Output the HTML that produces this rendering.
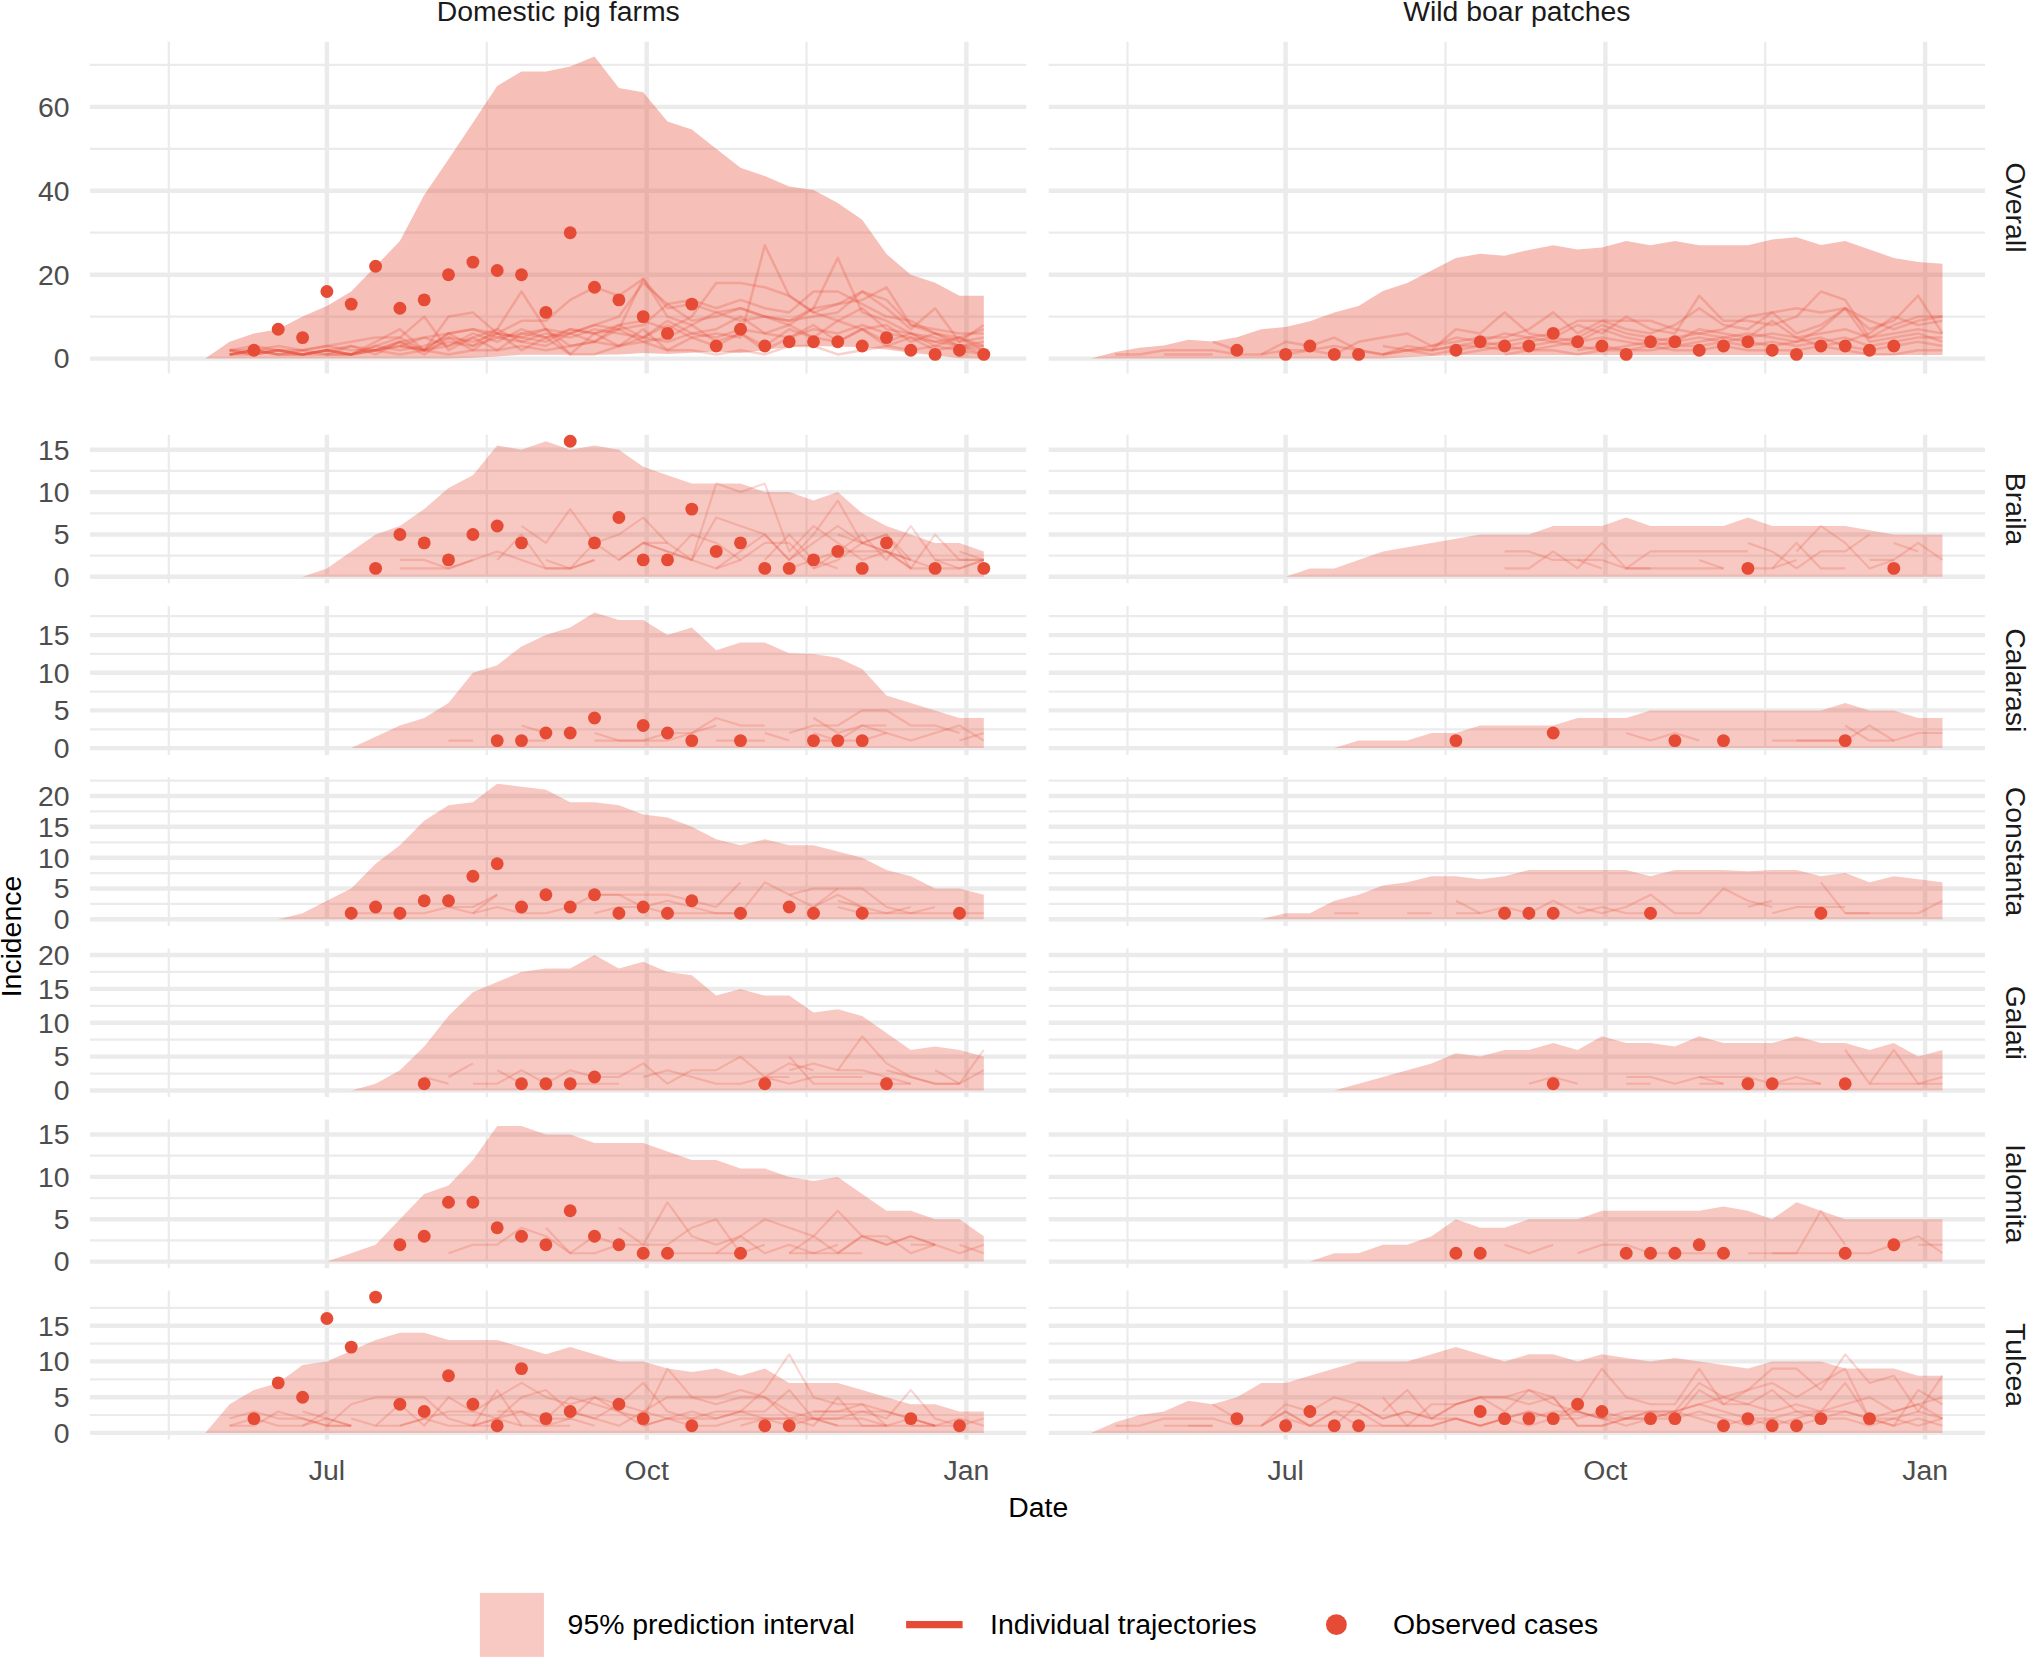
<!DOCTYPE html>
<html lang="en">
<head>
<meta charset="utf-8">
<title>Incidence: observed cases, prediction intervals and individual trajectories</title>
<style>
html,body{margin:0;padding:0;background:#fff}
body{width:2027px;height:1657px;overflow:hidden}
svg{display:block}
text{font-family:"Liberation Sans",sans-serif;font-size:28.4px}
.tk{fill:#4D4D4D}
.st{fill:#1A1A1A}
.ax{fill:#000}
g[clip-path] path:not([stroke]){stroke:#E64B35;stroke-opacity:.22;stroke-width:2.1;fill:none;stroke-linejoin:round;stroke-linecap:butt}
g.t path:not([stroke]){stroke-opacity:.26;stroke-width:2.5}
</style>
</head>
<body>
<svg width="2027" height="1657" viewBox="0 0 2027 1657">
<rect width="2027" height="1657" fill="#fff"/>
<defs>
<clipPath id="c00"><rect x="89.8" y="41.4" width="936.7" height="332.3"/></clipPath>
<clipPath id="c01"><rect x="1048.5" y="41.4" width="936.6" height="332.3"/></clipPath>
<clipPath id="c10"><rect x="89.8" y="434.5" width="936.7" height="149.1"/></clipPath>
<clipPath id="c11"><rect x="1048.5" y="434.5" width="936.6" height="149.1"/></clipPath>
<clipPath id="c20"><rect x="89.8" y="605.7" width="936.7" height="149.2"/></clipPath>
<clipPath id="c21"><rect x="1048.5" y="605.7" width="936.6" height="149.2"/></clipPath>
<clipPath id="c30"><rect x="89.8" y="776.9" width="936.7" height="149.2"/></clipPath>
<clipPath id="c31"><rect x="1048.5" y="776.9" width="936.6" height="149.2"/></clipPath>
<clipPath id="c40"><rect x="89.8" y="948.2" width="936.7" height="149.1"/></clipPath>
<clipPath id="c41"><rect x="1048.5" y="948.2" width="936.6" height="149.1"/></clipPath>
<clipPath id="c50"><rect x="89.8" y="1119.3" width="936.7" height="149.1"/></clipPath>
<clipPath id="c51"><rect x="1048.5" y="1119.3" width="936.6" height="149.1"/></clipPath>
<clipPath id="c60"><rect x="89.8" y="1290.3" width="936.7" height="149.4"/></clipPath>
<clipPath id="c61"><rect x="1048.5" y="1290.3" width="936.6" height="149.4"/></clipPath>
</defs>
<g class="t" clip-path="url(#c00)">
<path d="M89.8 316.6H1026.5M89.8 232.7H1026.5M89.8 148.8H1026.5M89.8 64.9H1026.5M168.8 41.4V373.7M486.8 41.4V373.7M806.5 41.4V373.7" stroke="#EBEBEB" stroke-width="2.2" fill="none"/>
<path d="M89.8 358.6H1026.5M89.8 274.7H1026.5M89.8 190.8H1026.5M89.8 106.9H1026.5M326.9 41.4V373.7M646.7 41.4V373.7M966.4 41.4V373.7" stroke="#EBEBEB" stroke-width="4.4" fill="none"/>
<polygon points="205.2,358.6 229.6,341.8 253.9,333.4 278.2,329.2 302.6,316.6 326.9,306.1 351.2,291.5 375.6,266.3 399.9,241.1 424.2,195 448.5,159.3 472.9,122.8 497.2,85.9 521.5,71.6 545.9,71.6 570.2,66.6 594.5,56.5 618.9,88 643.2,92.2 667.5,121.5 691.8,129.5 716.2,148.8 740.5,167.7 764.8,176.1 789.2,186.6 813.5,189.9 837.8,202.9 862.2,219.7 886.5,254.1 910.8,274.7 935.1,282.7 959.5,295.7 983.8,295.7 983.8,358.6 959.5,358.2 935.1,355.2 910.8,352.7 886.5,349.4 862.2,347.3 837.8,346.4 813.5,346 789.2,346.4 764.8,350.2 740.5,353.1 716.2,351.5 691.8,352.7 667.5,354 643.2,353.1 618.9,354.4 594.5,354.8 570.2,354.8 545.9,354.8 521.5,354.8 497.2,356.5 472.9,357.8 448.5,358.6 424.2,358.6 399.9,358.6 375.6,358.6 351.2,358.6 326.9,358.6 302.6,358.6 278.2,358.6 253.9,358.6 229.6,358.6 205.2,358.6" fill="#E64B35" fill-opacity="0.35"/>
<path d="M229.6 354.4 L253.9 350.2 L278.2 354.4 L302.6 354.4 L326.9 350.2 L351.2 354.4 L375.6 350.2 L399.9 346 L424.2 350.2 L448.5 341.8 L472.9 346 L497.2 337.6 L521.5 341.8 L545.9 333.4 L570.2 337.6 L594.5 329.2 L618.9 333.4 L643.2 337.6 L667.5 325 L691.8 337.6 L716.2 333.4 L740.5 337.6 L764.8 245.3 L789.2 295.7 L813.5 312.4 L837.8 320.8 L862.2 308.2 L886.5 329.2 L910.8 333.4 L935.1 341.8 L959.5 337.6 L983.8 346"/>
<path d="M229.6 350.2 L253.9 350.2 L278.2 346 L302.6 350.2 L326.9 346 L351.2 350.2 L375.6 350.2 L399.9 341.8 L424.2 337.6 L448.5 346 L472.9 333.4 L497.2 341.8 L521.5 329.2 L545.9 337.6 L570.2 333.4 L594.5 325 L618.9 329.2 L643.2 278.9 L667.5 316.6 L691.8 325 L716.2 312.4 L740.5 320.8 L764.8 316.6 L789.2 325 L813.5 308.2 L837.8 257.9 L862.2 312.4 L886.5 320.8 L910.8 333.4 L935.1 337.6 L959.5 346 L983.8 341.8"/>
<path d="M229.6 354.4 L253.9 354.4 L278.2 350.2 L302.6 354.4 L326.9 354.4 L351.2 354.4 L375.6 346 L399.9 350.2 L424.2 346 L448.5 337.6 L472.9 341.8 L497.2 333.4 L521.5 337.6 L545.9 341.8 L570.2 329.2 L594.5 333.4 L618.9 325 L643.2 320.8 L667.5 329.2 L691.8 316.6 L716.2 283.1 L740.5 283.1 L764.8 287.3 L789.2 295.7 L813.5 312.4 L837.8 304.1 L862.2 299.9 L886.5 287.3 L910.8 325 L935.1 333.4 L959.5 341.8 L983.8 337.6"/>
<path d="M229.6 350.2 L253.9 346 L278.2 350.2 L302.6 350.2 L326.9 346 L351.2 341.8 L375.6 337.6 L399.9 337.6 L424.2 316.6 L448.5 350.2 L472.9 337.6 L497.2 329.2 L521.5 291.5 L545.9 329.2 L570.2 354.4 L594.5 354.4 L618.9 346 L643.2 337.6 L667.5 341.8 L691.8 333.4 L716.2 337.6 L740.5 329.2 L764.8 333.4 L789.2 337.6 L813.5 329.2 L837.8 333.4 L862.2 325 L886.5 333.4 L910.8 337.6 L935.1 341.8 L959.5 346 L983.8 346"/>
<path d="M399.9 346 L424.2 350.2 L448.5 333.4 L472.9 329.2 L497.2 333.4 L521.5 320.8 L545.9 320.8 L570.2 299.9 L594.5 287.3 L618.9 295.7 L643.2 278.9 L667.5 308.2 L691.8 304.1 L716.2 312.4 L740.5 308.2 L764.8 316.6 L789.2 320.8 L813.5 308.2 L837.8 304.1 L862.2 291.5 L886.5 308.2 L910.8 329.2 L935.1 308.2 L959.5 341.8 L983.8 325"/>
<path d="M229.6 354.4 L253.9 350.2 L278.2 350.2 L302.6 354.4 L326.9 350.2 L351.2 354.4 L375.6 341.8 L399.9 329.2 L424.2 350.2 L448.5 316.6 L472.9 312.4 L497.2 333.4 L521.5 337.6 L545.9 329.2 L570.2 333.4 L594.5 325 L618.9 316.6 L643.2 283.1 L667.5 304.1 L691.8 299.9 L716.2 308.2 L740.5 299.9 L764.8 308.2 L789.2 312.4 L813.5 291.5 L837.8 291.5 L862.2 304.1 L886.5 316.6 L910.8 320.8 L935.1 333.4 L959.5 337.6 L983.8 329.2"/>
<path d="M229.6 354.4 L253.9 350.2 L278.2 354.4 L302.6 350.2 L326.9 354.4 L351.2 346 L375.6 354.4 L399.9 341.8 L424.2 354.4 L448.5 337.6 L472.9 350.2 L497.2 333.4 L521.5 350.2 L545.9 337.6 L570.2 354.4 L594.5 333.4 L618.9 346 L643.2 329.2 L667.5 350.2 L691.8 337.6 L716.2 346 L740.5 333.4 L764.8 350.2 L789.2 337.6 L813.5 325 L837.8 341.8 L862.2 329.2 L886.5 346 L910.8 337.6 L935.1 350.2 L959.5 346 L983.8 354.4"/>
<path d="M229.6 350.2 L253.9 354.4 L278.2 350.2 L302.6 354.4 L326.9 350.2 L351.2 346 L375.6 350.2 L399.9 346 L424.2 337.6 L448.5 333.4 L472.9 329.2 L497.2 337.6 L521.5 333.4 L545.9 337.6 L570.2 329.2 L594.5 333.4 L618.9 329.2 L643.2 325 L667.5 304.1 L691.8 320.8 L716.2 316.6 L740.5 308.2 L764.8 316.6 L789.2 320.8 L813.5 316.6 L837.8 312.4 L862.2 291.5 L886.5 299.9 L910.8 325 L935.1 329.2 L959.5 333.4 L983.8 333.4"/>
<path d="M326.9 354.4 L351.2 354.4 L375.6 350.2 L399.9 354.4 L424.2 350.2 L448.5 354.4 L472.9 350.2 L497.2 350.2 L521.5 346 L545.9 350.2 L570.2 346 L594.5 341.8 L618.9 346 L643.2 341.8 L667.5 350.2 L691.8 350.2 L716.2 354.4 L740.5 350.2 L764.8 354.4 L789.2 346 L813.5 346 L837.8 354.4 L862.2 350.2 L886.5 346 L910.8 350.2 L935.1 346 L959.5 350.2 L983.8 354.4"/>
<path d="M229.6 354.4 L253.9 350.2 L278.2 354.4 L302.6 354.4 L326.9 350.2 L351.2 354.4 L375.6 346 L399.9 337.6 L424.2 350.2 L448.5 333.4 L472.9 346 L497.2 329.2 L521.5 341.8 L545.9 346 L570.2 333.4 L594.5 341.8 L618.9 325 L643.2 337.6 L667.5 320.8 L691.8 333.4 L716.2 329.2 L740.5 316.6 L764.8 333.4 L789.2 325 L813.5 337.6 L837.8 320.8 L862.2 329.2 L886.5 341.8 L910.8 333.4 L935.1 346 L959.5 337.6 L983.8 350.2"/>
<path d="M229.6 350.2 L253.9 354.4 L278.2 350.2 L302.6 354.4 L326.9 350.2 L351.2 354.4 L375.6 350.2 L399.9 341.8 L424.2 350.2 L448.5 346 L472.9 337.6 L497.2 350.2 L521.5 333.4 L545.9 329.2 L570.2 346 L594.5 341.8 L618.9 329.2 L643.2 341.8 L667.5 337.6 L691.8 325 L716.2 341.8 L740.5 333.4 L764.8 346 L789.2 329.2 L813.5 337.6 L837.8 341.8 L862.2 329.2 L886.5 325 L910.8 341.8 L935.1 333.4 L959.5 346 L983.8 350.2"/>
</g>
<g fill="#E64B35">
<circle cx="253.9" cy="350.2" r="6.45"/>
<circle cx="278.2" cy="329.2" r="6.45"/>
<circle cx="302.6" cy="337.6" r="6.45"/>
<circle cx="326.9" cy="291.5" r="6.45"/>
<circle cx="351.2" cy="304.1" r="6.45"/>
<circle cx="375.6" cy="266.3" r="6.45"/>
<circle cx="399.9" cy="308.2" r="6.45"/>
<circle cx="424.2" cy="299.9" r="6.45"/>
<circle cx="448.5" cy="274.7" r="6.45"/>
<circle cx="472.9" cy="262.1" r="6.45"/>
<circle cx="497.2" cy="270.5" r="6.45"/>
<circle cx="521.5" cy="274.7" r="6.45"/>
<circle cx="545.9" cy="312.4" r="6.45"/>
<circle cx="570.2" cy="232.7" r="6.45"/>
<circle cx="594.5" cy="287.3" r="6.45"/>
<circle cx="618.9" cy="299.9" r="6.45"/>
<circle cx="643.2" cy="316.6" r="6.45"/>
<circle cx="667.5" cy="333.4" r="6.45"/>
<circle cx="691.8" cy="304.1" r="6.45"/>
<circle cx="716.2" cy="346" r="6.45"/>
<circle cx="740.5" cy="329.2" r="6.45"/>
<circle cx="764.8" cy="346" r="6.45"/>
<circle cx="789.2" cy="341.8" r="6.45"/>
<circle cx="813.5" cy="341.8" r="6.45"/>
<circle cx="837.8" cy="341.8" r="6.45"/>
<circle cx="862.2" cy="346" r="6.45"/>
<circle cx="886.5" cy="337.6" r="6.45"/>
<circle cx="910.8" cy="350.2" r="6.45"/>
<circle cx="935.1" cy="354.4" r="6.45"/>
<circle cx="959.5" cy="350.2" r="6.45"/>
<circle cx="983.8" cy="354.4" r="6.45"/>
</g>
<g class="t" clip-path="url(#c01)">
<path d="M1048.5 316.6H1985.1M1048.5 232.7H1985.1M1048.5 148.8H1985.1M1048.5 64.9H1985.1M1127.5 41.4V373.7M1445.5 41.4V373.7M1765.2 41.4V373.7" stroke="#EBEBEB" stroke-width="2.2" fill="none"/>
<path d="M1048.5 358.6H1985.1M1048.5 274.7H1985.1M1048.5 190.8H1985.1M1048.5 106.9H1985.1M1285.6 41.4V373.7M1605.4 41.4V373.7M1925.1 41.4V373.7" stroke="#EBEBEB" stroke-width="4.4" fill="none"/>
<polygon points="1091,358.6 1115.3,351.9 1139.6,347.7 1163.9,345.6 1188.3,339.7 1212.6,341.4 1236.9,337.2 1261.3,329.2 1285.6,327.1 1309.9,321.3 1334.3,312.4 1358.6,306.1 1382.9,291 1407.2,283.1 1431.6,270.5 1455.9,257.9 1480.2,253.7 1504.6,255.8 1528.9,249.9 1553.2,245.3 1577.6,249.5 1601.9,247.4 1626.2,241.1 1650.5,245.3 1674.9,241.1 1699.2,245.3 1723.5,245.3 1747.9,245.3 1772.2,239.4 1796.5,237.3 1820.9,244.9 1845.2,241.1 1869.5,249.5 1893.8,257.9 1918.2,262.1 1942.5,263.8 1942.5,355 1918.2,355 1893.8,355 1869.5,355 1845.2,355 1820.9,355 1796.5,355 1772.2,355 1747.9,355 1723.5,355 1699.2,355 1674.9,355 1650.5,355 1626.2,355 1601.9,355 1577.6,355 1553.2,355 1528.9,355 1504.6,355 1480.2,355 1455.9,355 1431.6,356.1 1407.2,357.3 1382.9,358.6 1358.6,358.6 1334.3,358.6 1309.9,358.6 1285.6,358.6 1261.3,358.6 1236.9,358.6 1212.6,358.6 1188.3,358.6 1163.9,358.6 1139.6,358.6 1115.3,358.6 1091,358.6" fill="#E64B35" fill-opacity="0.35"/>
<path d="M1115.3 354.4 L1139.6 354.4 L1163.9 350.2 L1188.3 350.2 L1212.6 350.2 L1236.9 354.4 L1261.3 354.4 L1285.6 350.2 L1309.9 350.2 L1334.3 346 L1358.6 350.2 L1382.9 354.4 L1407.2 350.2 L1431.6 350.2 L1455.9 346 L1480.2 341.8 L1504.6 346 L1528.9 341.8 L1553.2 337.6 L1577.6 341.8 L1601.9 337.6 L1626.2 341.8 L1650.5 346 L1674.9 341.8 L1699.2 337.6 L1723.5 341.8 L1747.9 337.6 L1772.2 333.4 L1796.5 337.6 L1820.9 333.4 L1845.2 329.2 L1869.5 337.6 L1893.8 333.4 L1918.2 329.2 L1942.5 333.4"/>
<path d="M1163.9 354.4 L1188.3 354.4 L1212.6 354.4"/>
<path d="M1212.6 341.8 L1236.9 350.2"/>
<path d="M1261.3 354.4 L1285.6 341.8 L1309.9 346 L1334.3 337.6 L1358.6 350.2 L1382.9 354.4 L1407.2 346 L1431.6 350.2 L1455.9 329.2 L1480.2 333.4 L1504.6 312.4 L1528.9 333.4 L1553.2 337.6 L1577.6 325 L1601.9 333.4 L1626.2 316.6 L1650.5 329.2 L1674.9 333.4 L1699.2 295.7 L1723.5 320.8 L1747.9 320.8 L1772.2 325 L1796.5 316.6 L1820.9 291.5 L1845.2 299.9 L1869.5 337.6 L1893.8 325 L1918.2 316.6 L1942.5 316.6"/>
<path d="M1285.6 354.4 L1309.9 350.2 L1334.3 354.4 L1358.6 341.8 L1382.9 337.6 L1407.2 333.4 L1431.6 346 L1455.9 341.8 L1480.2 337.6 L1504.6 337.6 L1528.9 329.2 L1553.2 312.4 L1577.6 333.4 L1601.9 320.8 L1626.2 329.2 L1650.5 333.4 L1674.9 325 L1699.2 308.2 L1723.5 325 L1747.9 329.2 L1772.2 312.4 L1796.5 333.4 L1820.9 325 L1845.2 308.2 L1869.5 329.2 L1893.8 320.8 L1918.2 295.7 L1942.5 333.4"/>
<path d="M1382.9 354.4 L1407.2 350.2 L1431.6 354.4 L1455.9 350.2 L1480.2 346 L1504.6 350.2 L1528.9 346 L1553.2 341.8 L1577.6 346 L1601.9 350.2 L1626.2 346 L1650.5 341.8 L1674.9 346 L1699.2 341.8 L1723.5 337.6 L1747.9 341.8 L1772.2 346 L1796.5 341.8 L1820.9 337.6 L1845.2 346 L1869.5 350.2 L1893.8 346 L1918.2 341.8 L1942.5 346"/>
<path d="M1382.9 346 L1407.2 350.2 L1431.6 346 L1455.9 337.6 L1480.2 341.8 L1504.6 333.4 L1528.9 337.6 L1553.2 333.4 L1577.6 320.8 L1601.9 320.8 L1626.2 320.8 L1650.5 320.8 L1674.9 329.2 L1699.2 333.4 L1723.5 329.2 L1747.9 316.6 L1772.2 312.4 L1796.5 308.2 L1820.9 312.4 L1845.2 308.2 L1869.5 320.8 L1893.8 329.2 L1918.2 320.8 L1942.5 316.6"/>
<path d="M1455.9 354.4 L1480.2 350.2 L1504.6 346 L1528.9 350.2 L1553.2 346 L1577.6 341.8 L1601.9 329.2 L1626.2 337.6 L1650.5 341.8 L1674.9 337.6 L1699.2 333.4 L1723.5 337.6 L1747.9 333.4 L1772.2 337.6 L1796.5 341.8 L1820.9 329.2 L1845.2 308.2 L1869.5 341.8 L1893.8 337.6 L1918.2 333.4 L1942.5 341.8"/>
<path d="M1431.6 350.2 L1455.9 346 L1480.2 346 L1504.6 341.8 L1528.9 337.6 L1553.2 341.8 L1577.6 337.6 L1601.9 325 L1626.2 333.4 L1650.5 337.6 L1674.9 341.8 L1699.2 329.2 L1723.5 333.4 L1747.9 337.6 L1772.2 320.8 L1796.5 337.6 L1820.9 346 L1845.2 341.8 L1869.5 333.4 L1893.8 316.6 L1918.2 325 L1942.5 320.8"/>
<path d="M1504.6 354.4 L1528.9 350.2 L1553.2 350.2 L1577.6 354.4 L1601.9 350.2 L1626.2 350.2 L1650.5 346 L1674.9 350.2 L1699.2 350.2 L1723.5 346 L1747.9 350.2 L1772.2 350.2 L1796.5 350.2 L1820.9 346 L1845.2 350.2 L1869.5 354.4 L1893.8 354.4 L1918.2 350.2 L1942.5 350.2"/>
<path d="M1577.6 350.2 L1601.9 346 L1626.2 350.2 L1650.5 350.2 L1674.9 346 L1699.2 346 L1723.5 341.8 L1747.9 346 L1772.2 341.8 L1796.5 346 L1820.9 341.8 L1845.2 337.6 L1869.5 346 L1893.8 341.8 L1918.2 337.6 L1942.5 337.6"/>
</g>
<g fill="#E64B35">
<circle cx="1236.9" cy="350.2" r="6.45"/>
<circle cx="1285.6" cy="354.4" r="6.45"/>
<circle cx="1309.9" cy="346" r="6.45"/>
<circle cx="1334.3" cy="354.4" r="6.45"/>
<circle cx="1358.6" cy="354.4" r="6.45"/>
<circle cx="1455.9" cy="350.2" r="6.45"/>
<circle cx="1480.2" cy="341.8" r="6.45"/>
<circle cx="1504.6" cy="346" r="6.45"/>
<circle cx="1528.9" cy="346" r="6.45"/>
<circle cx="1553.2" cy="333.4" r="6.45"/>
<circle cx="1577.6" cy="341.8" r="6.45"/>
<circle cx="1601.9" cy="346" r="6.45"/>
<circle cx="1626.2" cy="354.4" r="6.45"/>
<circle cx="1650.5" cy="341.8" r="6.45"/>
<circle cx="1674.9" cy="341.8" r="6.45"/>
<circle cx="1699.2" cy="350.2" r="6.45"/>
<circle cx="1723.5" cy="346" r="6.45"/>
<circle cx="1747.9" cy="341.8" r="6.45"/>
<circle cx="1772.2" cy="350.2" r="6.45"/>
<circle cx="1796.5" cy="354.4" r="6.45"/>
<circle cx="1820.9" cy="346" r="6.45"/>
<circle cx="1845.2" cy="346" r="6.45"/>
<circle cx="1869.5" cy="350.2" r="6.45"/>
<circle cx="1893.8" cy="346" r="6.45"/>
</g>
<g class="tk" text-anchor="end">
<text x="69.6" y="368.4">0</text>
<text x="69.6" y="284.5">20</text>
<text x="69.6" y="200.6">40</text>
<text x="69.6" y="116.7">60</text>
</g>
<text class="st" text-anchor="middle" transform="translate(2006 207.5) rotate(90)">Overall</text>
<g class="b" clip-path="url(#c10)">
<path d="M89.8 555.6H1026.5M89.8 513.3H1026.5M89.8 470.9H1026.5M168.8 434.5V583.6M486.8 434.5V583.6M806.5 434.5V583.6" stroke="#EBEBEB" stroke-width="2.2" fill="none"/>
<path d="M89.8 576.8H1026.5M89.8 534.5H1026.5M89.8 492.1H1026.5M89.8 449.7H1026.5M326.9 434.5V583.6M646.7 434.5V583.6M966.4 434.5V583.6" stroke="#EBEBEB" stroke-width="4.4" fill="none"/>
<polygon points="302.6,576.8 326.9,568.4 351.2,551.4 375.6,534.5 399.9,526 424.2,509.1 448.5,487.9 472.9,475.2 497.2,445.5 521.5,449.7 545.9,441.3 570.2,449.7 594.5,445.5 618.9,449.7 643.2,466.7 667.5,475.2 691.8,483.6 716.2,483.6 740.5,483.6 764.8,492.1 789.2,492.1 813.5,500.6 837.8,492.1 862.2,513.3 886.5,526 910.8,534.5 935.1,542.9 959.5,542.9 983.8,551.4 983.8,576.8 959.5,576.8 935.1,576.8 910.8,576.8 886.5,576.8 862.2,576.8 837.8,576.8 813.5,576.8 789.2,576.8 764.8,576.8 740.5,576.8 716.2,576.8 691.8,576.8 667.5,576.8 643.2,576.8 618.9,576.8 594.5,576.8 570.2,576.8 545.9,576.8 521.5,576.8 497.2,576.8 472.9,576.8 448.5,576.8 424.2,576.8 399.9,576.8 375.6,576.8 351.2,576.8 326.9,576.8 302.6,576.8" fill="#E64B35" fill-opacity="0.3"/>
<path d="M399.9 559.9 L424.2 559.9 L448.5 568.4 L472.9 559.9"/>
<path d="M399.9 568.4 L424.2 568.4 L448.5 568.4 L472.9 559.9 L497.2 551.4 L521.5 559.9 L545.9 568.4 L570.2 568.4 L594.5 559.9"/>
<path d="M497.2 559.9 L521.5 534.5 L545.9 568.4 L570.2 568.4 L594.5 542.9 L618.9 559.9 L643.2 542.9 L667.5 551.4 L691.8 559.9 L716.2 483.6 L740.5 492.1 L764.8 483.6 L789.2 551.4 L813.5 526 L837.8 542.9 L862.2 559.9 L886.5 551.4 L910.8 568.4"/>
<path d="M521.5 526 L545.9 542.9 L570.2 509.1 L594.5 542.9 L618.9 534.5 L643.2 517.5 L667.5 542.9 L691.8 559.9 L716.2 517.5 L740.5 526 L764.8 534.5 L789.2 559.9 L813.5 542.9 L837.8 526 L862.2 542.9 L886.5 551.4 L910.8 559.9"/>
<path d="M545.9 559.9 L570.2 568.4 L594.5 559.9"/>
<path d="M618.9 559.9 L643.2 542.9 L667.5 551.4 L691.8 559.9 L716.2 568.4 L740.5 551.4 L764.8 534.5 L789.2 559.9 L813.5 534.5 L837.8 500.6 L862.2 542.9 L886.5 551.4 L910.8 559.9"/>
<path d="M643.2 542.9 L667.5 542.9"/>
<path d="M667.5 559.9 L691.8 534.5 L716.2 542.9 L740.5 559.9 L764.8 542.9 L789.2 542.9 L813.5 568.4 L837.8 551.4 L862.2 551.4 L886.5 551.4 L910.8 568.4 L935.1 568.4"/>
<path d="M716.2 568.4 L740.5 559.9"/>
<path d="M764.8 559.9 L789.2 534.5 L813.5 559.9 L837.8 551.4 L862.2 534.5 L886.5 559.9 L910.8 526 L935.1 559.9 L959.5 568.4 L983.8 559.9"/>
<path d="M837.8 534.5 L862.2 542.9 L886.5 534.5 L910.8 568.4 L935.1 534.5 L959.5 559.9 L983.8 559.9"/>
<path d="M789.2 568.4 L813.5 559.9 L837.8 568.4"/>
<path d="M813.5 568.4 L837.8 559.9 L862.2 542.9 L886.5 534.5 L910.8 559.9 L935.1 568.4"/>
<path d="M935.1 559.9 L959.5 559.9 L983.8 559.9"/>
<path d="M935.1 568.4 L959.5 568.4 L983.8 559.9"/>
<path d="M959.5 551.4 L983.8 559.9"/>
</g>
<g fill="#E64B35">
<circle cx="375.6" cy="568.4" r="6.45"/>
<circle cx="399.9" cy="534.5" r="6.45"/>
<circle cx="424.2" cy="542.9" r="6.45"/>
<circle cx="448.5" cy="559.9" r="6.45"/>
<circle cx="472.9" cy="534.5" r="6.45"/>
<circle cx="497.2" cy="526" r="6.45"/>
<circle cx="521.5" cy="542.9" r="6.45"/>
<circle cx="570.2" cy="441.3" r="6.45"/>
<circle cx="594.5" cy="542.9" r="6.45"/>
<circle cx="618.9" cy="517.5" r="6.45"/>
<circle cx="643.2" cy="559.9" r="6.45"/>
<circle cx="667.5" cy="559.9" r="6.45"/>
<circle cx="691.8" cy="509.1" r="6.45"/>
<circle cx="716.2" cy="551.4" r="6.45"/>
<circle cx="740.5" cy="542.9" r="6.45"/>
<circle cx="764.8" cy="568.4" r="6.45"/>
<circle cx="789.2" cy="568.4" r="6.45"/>
<circle cx="813.5" cy="559.9" r="6.45"/>
<circle cx="837.8" cy="551.4" r="6.45"/>
<circle cx="862.2" cy="568.4" r="6.45"/>
<circle cx="886.5" cy="542.9" r="6.45"/>
<circle cx="935.1" cy="568.4" r="6.45"/>
<circle cx="983.8" cy="568.4" r="6.45"/>
</g>
<g class="b" clip-path="url(#c11)">
<path d="M1048.5 555.6H1985.1M1048.5 513.3H1985.1M1048.5 470.9H1985.1M1127.5 434.5V583.6M1445.5 434.5V583.6M1765.2 434.5V583.6" stroke="#EBEBEB" stroke-width="2.2" fill="none"/>
<path d="M1048.5 576.8H1985.1M1048.5 534.5H1985.1M1048.5 492.1H1985.1M1048.5 449.7H1985.1M1285.6 434.5V583.6M1605.4 434.5V583.6M1925.1 434.5V583.6" stroke="#EBEBEB" stroke-width="4.4" fill="none"/>
<polygon points="1285.6,576.8 1309.9,568.4 1334.3,568.4 1358.6,559.9 1382.9,551.4 1407.2,547.2 1431.6,542.9 1455.9,538.7 1480.2,534.5 1504.6,534.5 1528.9,534.5 1553.2,526 1577.6,526 1601.9,526 1626.2,517.5 1650.5,526 1674.9,526 1699.2,526 1723.5,526 1747.9,517.5 1772.2,526 1796.5,526 1820.9,526 1845.2,526 1869.5,530.2 1893.8,534.5 1918.2,534.5 1942.5,534.5 1942.5,576.8 1918.2,576.8 1893.8,576.8 1869.5,576.8 1845.2,576.8 1820.9,576.8 1796.5,576.8 1772.2,576.8 1747.9,576.8 1723.5,576.8 1699.2,576.8 1674.9,576.8 1650.5,576.8 1626.2,576.8 1601.9,576.8 1577.6,576.8 1553.2,576.8 1528.9,576.8 1504.6,576.8 1480.2,576.8 1455.9,576.8 1431.6,576.8 1407.2,576.8 1382.9,576.8 1358.6,576.8 1334.3,576.8 1309.9,576.8 1285.6,576.8" fill="#E64B35" fill-opacity="0.3"/>
<path d="M1504.6 551.4 L1528.9 551.4 L1553.2 559.9 L1577.6 559.9 L1601.9 559.9 L1626.2 568.4 L1650.5 568.4"/>
<path d="M1504.6 568.4 L1528.9 568.4 L1553.2 551.4 L1577.6 568.4 L1601.9 542.9 L1626.2 568.4 L1650.5 551.4 L1674.9 551.4 L1699.2 551.4 L1723.5 551.4 L1747.9 551.4"/>
<path d="M1577.6 559.9 L1601.9 568.4"/>
<path d="M1626.2 568.4 L1650.5 568.4 L1674.9 568.4 L1699.2 568.4 L1723.5 568.4"/>
<path d="M1699.2 559.9 L1723.5 568.4"/>
<path d="M1747.9 542.9 L1772.2 551.4 L1796.5 568.4"/>
<path d="M1747.9 568.4 L1772.2 568.4 L1796.5 542.9 L1820.9 568.4 L1845.2 568.4"/>
<path d="M1772.2 568.4 L1796.5 559.9"/>
<path d="M1796.5 551.4 L1820.9 526 L1845.2 542.9 L1869.5 568.4 L1893.8 559.9 L1918.2 542.9 L1942.5 559.9"/>
<path d="M1796.5 568.4 L1820.9 551.4 L1845.2 551.4 L1869.5 534.5"/>
<path d="M1869.5 559.9 L1893.8 559.9"/>
<path d="M1893.8 542.9 L1918.2 551.4"/>
</g>
<g fill="#E64B35">
<circle cx="1747.9" cy="568.4" r="6.45"/>
<circle cx="1893.8" cy="568.4" r="6.45"/>
</g>
<g class="tk" text-anchor="end">
<text x="69.6" y="586.6">0</text>
<text x="69.6" y="544.3">5</text>
<text x="69.6" y="501.9">10</text>
<text x="69.6" y="459.5">15</text>
</g>
<text class="st" text-anchor="middle" transform="translate(2006 509.1) rotate(90)">Braila</text>
<g class="b" clip-path="url(#c20)">
<path d="M89.8 729.3H1026.5M89.8 691.6H1026.5M89.8 653.9H1026.5M89.8 616.2H1026.5M168.8 605.7V754.9M486.8 605.7V754.9M806.5 605.7V754.9" stroke="#EBEBEB" stroke-width="2.2" fill="none"/>
<path d="M89.8 748.1H1026.5M89.8 710.4H1026.5M89.8 672.8H1026.5M89.8 635.1H1026.5M326.9 605.7V754.9M646.7 605.7V754.9M966.4 605.7V754.9" stroke="#EBEBEB" stroke-width="4.4" fill="none"/>
<polygon points="351.2,748.1 375.6,736.8 399.9,725.5 424.2,718 448.5,702.9 472.9,672.8 497.2,665.2 521.5,646.4 545.9,635.1 570.2,627.6 594.5,612.5 618.9,620 643.2,620 667.5,635.1 691.8,627.6 716.2,650.2 740.5,642.6 764.8,642.6 789.2,653.2 813.5,653.9 837.8,657.7 862.2,669 886.5,695.4 910.8,702.9 935.1,710.4 959.5,718 983.8,718 983.8,748.1 959.5,748.1 935.1,748.1 910.8,748.1 886.5,748.1 862.2,748.1 837.8,748.1 813.5,748.1 789.2,748.1 764.8,748.1 740.5,748.1 716.2,748.1 691.8,748.1 667.5,748.1 643.2,748.1 618.9,748.1 594.5,748.1 570.2,748.1 545.9,748.1 521.5,748.1 497.2,748.1 472.9,748.1 448.5,748.1 424.2,748.1 399.9,748.1 375.6,748.1 351.2,748.1" fill="#E64B35" fill-opacity="0.3"/>
<path d="M448.5 740.6 L472.9 740.6"/>
<path d="M521.5 725.5 L545.9 733"/>
<path d="M521.5 740.6 L545.9 740.6"/>
<path d="M594.5 733 L618.9 740.6 L643.2 740.6 L667.5 733 L691.8 733 L716.2 718 L740.5 725.5 L764.8 725.5"/>
<path d="M594.5 740.6 L618.9 740.6 L643.2 740.6 L667.5 740.6 L691.8 733 L716.2 725.5"/>
<path d="M716.2 740.6 L740.5 740.6 L764.8 740.6"/>
<path d="M764.8 733 L789.2 740.6"/>
<path d="M789.2 733 L813.5 725.5 L837.8 725.5 L862.2 710.4 L886.5 710.4 L910.8 725.5 L935.1 725.5 L959.5 733"/>
<path d="M813.5 718 L837.8 733 L862.2 725.5 L886.5 725.5"/>
<path d="M813.5 733 L837.8 740.6 L862.2 740.6 L886.5 733 L910.8 740.6 L935.1 733 L959.5 725.5 L983.8 740.6"/>
<path d="M813.5 740.6 L837.8 740.6 L862.2 725.5 L886.5 733"/>
<path d="M959.5 740.6 L983.8 733"/>
</g>
<g fill="#E64B35">
<circle cx="497.2" cy="740.6" r="6.45"/>
<circle cx="521.5" cy="740.6" r="6.45"/>
<circle cx="545.9" cy="733" r="6.45"/>
<circle cx="570.2" cy="733" r="6.45"/>
<circle cx="594.5" cy="718" r="6.45"/>
<circle cx="643.2" cy="725.5" r="6.45"/>
<circle cx="667.5" cy="733" r="6.45"/>
<circle cx="691.8" cy="740.6" r="6.45"/>
<circle cx="740.5" cy="740.6" r="6.45"/>
<circle cx="813.5" cy="740.6" r="6.45"/>
<circle cx="837.8" cy="740.6" r="6.45"/>
<circle cx="862.2" cy="740.6" r="6.45"/>
</g>
<g class="b" clip-path="url(#c21)">
<path d="M1048.5 729.3H1985.1M1048.5 691.6H1985.1M1048.5 653.9H1985.1M1048.5 616.2H1985.1M1127.5 605.7V754.9M1445.5 605.7V754.9M1765.2 605.7V754.9" stroke="#EBEBEB" stroke-width="2.2" fill="none"/>
<path d="M1048.5 748.1H1985.1M1048.5 710.4H1985.1M1048.5 672.8H1985.1M1048.5 635.1H1985.1M1285.6 605.7V754.9M1605.4 605.7V754.9M1925.1 605.7V754.9" stroke="#EBEBEB" stroke-width="4.4" fill="none"/>
<polygon points="1334.3,748.1 1358.6,740.6 1382.9,740.6 1407.2,740.6 1431.6,733 1455.9,733 1480.2,725.5 1504.6,725.5 1528.9,725.5 1553.2,725.5 1577.6,718 1601.9,718 1626.2,718 1650.5,710.4 1674.9,710.4 1699.2,710.4 1723.5,710.4 1747.9,710.4 1772.2,710.4 1796.5,710.4 1820.9,710.4 1845.2,702.9 1869.5,710.4 1893.8,710.4 1918.2,718 1942.5,718 1942.5,748.1 1918.2,748.1 1893.8,748.1 1869.5,748.1 1845.2,748.1 1820.9,748.1 1796.5,748.1 1772.2,748.1 1747.9,748.1 1723.5,748.1 1699.2,748.1 1674.9,748.1 1650.5,748.1 1626.2,748.1 1601.9,748.1 1577.6,748.1 1553.2,748.1 1528.9,748.1 1504.6,748.1 1480.2,748.1 1455.9,748.1 1431.6,748.1 1407.2,748.1 1382.9,748.1 1358.6,748.1 1334.3,748.1" fill="#E64B35" fill-opacity="0.3"/>
<path d="M1626.2 733 L1650.5 740.6 L1674.9 733 L1699.2 740.6"/>
<path d="M1772.2 740.6 L1796.5 740.6 L1820.9 740.6 L1845.2 740.6"/>
<path d="M1796.5 740.6 L1820.9 740.6 L1845.2 740.6"/>
<path d="M1845.2 725.5 L1869.5 740.6 L1893.8 740.6"/>
<path d="M1845.2 740.6 L1869.5 725.5 L1893.8 740.6 L1918.2 733 L1942.5 733"/>
</g>
<g fill="#E64B35">
<circle cx="1455.9" cy="740.6" r="6.45"/>
<circle cx="1553.2" cy="733" r="6.45"/>
<circle cx="1674.9" cy="740.6" r="6.45"/>
<circle cx="1723.5" cy="740.6" r="6.45"/>
<circle cx="1845.2" cy="740.6" r="6.45"/>
</g>
<g class="tk" text-anchor="end">
<text x="69.6" y="757.9">0</text>
<text x="69.6" y="720.2">5</text>
<text x="69.6" y="682.6">10</text>
<text x="69.6" y="644.9">15</text>
</g>
<text class="st" text-anchor="middle" transform="translate(2006 680.3) rotate(90)">Calarasi</text>
<g class="b" clip-path="url(#c30)">
<path d="M89.8 903.9H1026.5M89.8 873.1H1026.5M89.8 842.3H1026.5M89.8 811.4H1026.5M89.8 780.6H1026.5M168.8 776.9V926.1M486.8 776.9V926.1M806.5 776.9V926.1" stroke="#EBEBEB" stroke-width="2.2" fill="none"/>
<path d="M89.8 919.3H1026.5M89.8 888.5H1026.5M89.8 857.7H1026.5M89.8 826.8H1026.5M89.8 796H1026.5M326.9 776.9V926.1M646.7 776.9V926.1M966.4 776.9V926.1" stroke="#EBEBEB" stroke-width="4.4" fill="none"/>
<polygon points="278.2,919.3 302.6,913.2 326.9,900.8 351.2,888.5 375.6,863.8 399.9,845.3 424.2,820.7 448.5,805.3 472.9,802.2 497.2,783.7 521.5,786.8 545.9,789.8 570.2,802.2 594.5,802.2 618.9,805.3 643.2,814.5 667.5,817.6 691.8,826.8 716.2,839.2 740.5,845.3 764.8,839.2 789.2,845.3 813.5,845.3 837.8,851.5 862.2,857.7 886.5,870 910.8,876.2 935.1,888.5 959.5,888.5 983.8,894.7 983.8,919.3 959.5,919.3 935.1,919.3 910.8,919.3 886.5,919.3 862.2,919.3 837.8,919.3 813.5,919.3 789.2,919.3 764.8,919.3 740.5,919.3 716.2,919.3 691.8,919.3 667.5,919.3 643.2,919.3 618.9,919.3 594.5,919.3 570.2,919.3 545.9,919.3 521.5,919.3 497.2,919.3 472.9,919.3 448.5,919.3 424.2,919.3 399.9,919.3 375.6,919.3 351.2,919.3 326.9,919.3 302.6,919.3 278.2,919.3" fill="#E64B35" fill-opacity="0.3"/>
<path d="M351.2 913.2 L375.6 913.2 L399.9 913.2 L424.2 913.2 L448.5 907 L472.9 913.2 L497.2 907 L521.5 913.2 L545.9 913.2 L570.2 907 L594.5 894.7 L618.9 894.7 L643.2 907 L667.5 900.8 L691.8 907 L716.2 913.2 L740.5 913.2"/>
<path d="M448.5 907 L472.9 907 L497.2 894.7"/>
<path d="M472.9 913.2 L497.2 894.7"/>
<path d="M594.5 913.2 L618.9 907 L643.2 907 L667.5 913.2 L691.8 913.2 L716.2 913.2"/>
<path d="M594.5 894.7 L618.9 894.7 L643.2 894.7 L667.5 894.7 L691.8 900.8 L716.2 907 L740.5 882.3"/>
<path d="M716.2 913.2 L740.5 913.2 L764.8 882.3 L789.2 894.7 L813.5 907 L837.8 888.5 L862.2 888.5 L886.5 907 L910.8 913.2 L935.1 913.2 L959.5 913.2 L983.8 913.2"/>
<path d="M789.2 894.7 L813.5 888.5 L837.8 888.5"/>
<path d="M813.5 907 L837.8 894.7 L862.2 907 L886.5 913.2 L910.8 907"/>
<path d="M837.8 907 L862.2 913.2 L886.5 913.2 L910.8 913.2 L935.1 907"/>
<path d="M837.8 900.8 L862.2 907"/>
</g>
<g fill="#E64B35">
<circle cx="351.2" cy="913.2" r="6.45"/>
<circle cx="375.6" cy="907" r="6.45"/>
<circle cx="399.9" cy="913.2" r="6.45"/>
<circle cx="424.2" cy="900.8" r="6.45"/>
<circle cx="448.5" cy="900.8" r="6.45"/>
<circle cx="472.9" cy="876.2" r="6.45"/>
<circle cx="497.2" cy="863.8" r="6.45"/>
<circle cx="521.5" cy="907" r="6.45"/>
<circle cx="545.9" cy="894.7" r="6.45"/>
<circle cx="570.2" cy="907" r="6.45"/>
<circle cx="594.5" cy="894.7" r="6.45"/>
<circle cx="618.9" cy="913.2" r="6.45"/>
<circle cx="643.2" cy="907" r="6.45"/>
<circle cx="667.5" cy="913.2" r="6.45"/>
<circle cx="691.8" cy="900.8" r="6.45"/>
<circle cx="740.5" cy="913.2" r="6.45"/>
<circle cx="789.2" cy="907" r="6.45"/>
<circle cx="813.5" cy="913.2" r="6.45"/>
<circle cx="862.2" cy="913.2" r="6.45"/>
<circle cx="959.5" cy="913.2" r="6.45"/>
</g>
<g class="b" clip-path="url(#c31)">
<path d="M1048.5 903.9H1985.1M1048.5 873.1H1985.1M1048.5 842.3H1985.1M1048.5 811.4H1985.1M1048.5 780.6H1985.1M1127.5 776.9V926.1M1445.5 776.9V926.1M1765.2 776.9V926.1" stroke="#EBEBEB" stroke-width="2.2" fill="none"/>
<path d="M1048.5 919.3H1985.1M1048.5 888.5H1985.1M1048.5 857.7H1985.1M1048.5 826.8H1985.1M1048.5 796H1985.1M1285.6 776.9V926.1M1605.4 776.9V926.1M1925.1 776.9V926.1" stroke="#EBEBEB" stroke-width="4.4" fill="none"/>
<polygon points="1261.3,919.3 1285.6,913.2 1309.9,913.2 1334.3,900.8 1358.6,894.7 1382.9,885.4 1407.2,882.3 1431.6,876.2 1455.9,876.2 1480.2,879.2 1504.6,876.2 1528.9,870 1553.2,870 1577.6,870 1601.9,870 1626.2,870 1650.5,876.2 1674.9,870 1699.2,870 1723.5,870 1747.9,871.2 1772.2,870 1796.5,870 1820.9,876.2 1845.2,873.1 1869.5,882.3 1893.8,876.2 1918.2,879.2 1942.5,882.3 1942.5,919.3 1918.2,919.3 1893.8,919.3 1869.5,919.3 1845.2,919.3 1820.9,919.3 1796.5,919.3 1772.2,919.3 1747.9,919.3 1723.5,919.3 1699.2,919.3 1674.9,919.3 1650.5,919.3 1626.2,919.3 1601.9,919.3 1577.6,919.3 1553.2,919.3 1528.9,919.3 1504.6,919.3 1480.2,919.3 1455.9,919.3 1431.6,919.3 1407.2,919.3 1382.9,919.3 1358.6,919.3 1334.3,919.3 1309.9,919.3 1285.6,919.3 1261.3,919.3" fill="#E64B35" fill-opacity="0.3"/>
<path d="M1334.3 913.2 L1358.6 913.2"/>
<path d="M1407.2 913.2 L1431.6 913.2"/>
<path d="M1455.9 913.2 L1480.2 913.2"/>
<path d="M1455.9 900.8 L1480.2 913.2 L1504.6 907 L1528.9 913.2 L1553.2 900.8 L1577.6 913.2 L1601.9 907 L1626.2 913.2 L1650.5 913.2"/>
<path d="M1577.6 907 L1601.9 913.2 L1626.2 907 L1650.5 894.7 L1674.9 913.2 L1699.2 913.2 L1723.5 888.5 L1747.9 900.8 L1772.2 907"/>
<path d="M1747.9 907 L1772.2 900.8"/>
<path d="M1772.2 913.2 L1796.5 907 L1820.9 907 L1845.2 907"/>
<path d="M1820.9 882.3 L1845.2 913.2 L1869.5 913.2 L1893.8 913.2 L1918.2 913.2 L1942.5 900.8"/>
<path d="M1845.2 913.2 L1869.5 913.2"/>
</g>
<g fill="#E64B35">
<circle cx="1504.6" cy="913.2" r="6.45"/>
<circle cx="1528.9" cy="913.2" r="6.45"/>
<circle cx="1553.2" cy="913.2" r="6.45"/>
<circle cx="1650.5" cy="913.2" r="6.45"/>
<circle cx="1820.9" cy="913.2" r="6.45"/>
</g>
<g class="tk" text-anchor="end">
<text x="69.6" y="929.1">0</text>
<text x="69.6" y="898.3">5</text>
<text x="69.6" y="867.5">10</text>
<text x="69.6" y="836.6">15</text>
<text x="69.6" y="805.8">20</text>
</g>
<text class="st" text-anchor="middle" transform="translate(2006 851.5) rotate(90)">Constanta</text>
<g class="b" clip-path="url(#c40)">
<path d="M89.8 1073.6H1026.5M89.8 1039.7H1026.5M89.8 1005.8H1026.5M89.8 971.9H1026.5M168.8 948.2V1097.3M486.8 948.2V1097.3M806.5 948.2V1097.3" stroke="#EBEBEB" stroke-width="2.2" fill="none"/>
<path d="M89.8 1090.5H1026.5M89.8 1056.6H1026.5M89.8 1022.8H1026.5M89.8 988.9H1026.5M89.8 955H1026.5M326.9 948.2V1097.3M646.7 948.2V1097.3M966.4 948.2V1097.3" stroke="#EBEBEB" stroke-width="4.4" fill="none"/>
<polygon points="351.2,1090.5 375.6,1083.7 399.9,1070.2 424.2,1046.5 448.5,1016 472.9,992.3 497.2,982.1 521.5,971.9 545.9,968.5 570.2,968.5 594.5,955 618.9,968.5 643.2,961.8 667.5,971.9 691.8,975.3 716.2,995.6 740.5,988.9 764.8,995.6 789.2,995.6 813.5,1012.6 837.8,1009.2 862.2,1016 886.5,1032.9 910.8,1049.9 935.1,1046.5 959.5,1049.9 983.8,1056.6 983.8,1090.5 959.5,1090.5 935.1,1090.5 910.8,1090.5 886.5,1090.5 862.2,1090.5 837.8,1090.5 813.5,1090.5 789.2,1090.5 764.8,1090.5 740.5,1090.5 716.2,1090.5 691.8,1090.5 667.5,1090.5 643.2,1090.5 618.9,1090.5 594.5,1090.5 570.2,1090.5 545.9,1090.5 521.5,1090.5 497.2,1090.5 472.9,1090.5 448.5,1090.5 424.2,1090.5 399.9,1090.5 375.6,1090.5 351.2,1090.5" fill="#E64B35" fill-opacity="0.3"/>
<path d="M424.2 1077 L448.5 1083.7"/>
<path d="M448.5 1077 L472.9 1063.4"/>
<path d="M472.9 1083.7 L497.2 1083.7"/>
<path d="M497.2 1070.2 L521.5 1083.7"/>
<path d="M497.2 1083.7 L521.5 1070.2 L545.9 1083.7 L570.2 1070.2 L594.5 1077 L618.9 1077 L643.2 1063.4 L667.5 1083.7 L691.8 1070.2 L716.2 1070.2 L740.5 1056.6 L764.8 1077 L789.2 1063.4 L813.5 1070.2"/>
<path d="M570.2 1083.7 L594.5 1083.7 L618.9 1083.7"/>
<path d="M643.2 1077 L667.5 1070.2 L691.8 1077 L716.2 1083.7 L740.5 1083.7 L764.8 1077 L789.2 1077"/>
<path d="M764.8 1077 L789.2 1083.7 L813.5 1077 L837.8 1077 L862.2 1077"/>
<path d="M789.2 1056.6 L813.5 1083.7 L837.8 1083.7 L862.2 1083.7 L886.5 1083.7 L910.8 1083.7"/>
<path d="M789.2 1070.2 L813.5 1063.4 L837.8 1070.2 L862.2 1070.2 L886.5 1077 L910.8 1083.7"/>
<path d="M837.8 1070.2 L862.2 1036.3 L886.5 1063.4 L910.8 1077 L935.1 1083.7 L959.5 1083.7 L983.8 1049.9"/>
<path d="M886.5 1070.2 L910.8 1077 L935.1 1083.7 L959.5 1083.7 L983.8 1070.2"/>
<path d="M935.1 1070.2 L959.5 1083.7"/>
</g>
<g fill="#E64B35">
<circle cx="424.2" cy="1083.7" r="6.45"/>
<circle cx="521.5" cy="1083.7" r="6.45"/>
<circle cx="545.9" cy="1083.7" r="6.45"/>
<circle cx="570.2" cy="1083.7" r="6.45"/>
<circle cx="594.5" cy="1077" r="6.45"/>
<circle cx="764.8" cy="1083.7" r="6.45"/>
<circle cx="886.5" cy="1083.7" r="6.45"/>
</g>
<g class="b" clip-path="url(#c41)">
<path d="M1048.5 1073.6H1985.1M1048.5 1039.7H1985.1M1048.5 1005.8H1985.1M1048.5 971.9H1985.1M1127.5 948.2V1097.3M1445.5 948.2V1097.3M1765.2 948.2V1097.3" stroke="#EBEBEB" stroke-width="2.2" fill="none"/>
<path d="M1048.5 1090.5H1985.1M1048.5 1056.6H1985.1M1048.5 1022.8H1985.1M1048.5 988.9H1985.1M1048.5 955H1985.1M1285.6 948.2V1097.3M1605.4 948.2V1097.3M1925.1 948.2V1097.3" stroke="#EBEBEB" stroke-width="4.4" fill="none"/>
<polygon points="1334.3,1090.5 1358.6,1083.7 1382.9,1077 1407.2,1070.2 1431.6,1063.4 1455.9,1053.2 1480.2,1056.6 1504.6,1049.9 1528.9,1049.9 1553.2,1043.1 1577.6,1049.9 1601.9,1036.3 1626.2,1043.1 1650.5,1043.1 1674.9,1046.5 1699.2,1036.3 1723.5,1043.1 1747.9,1043.1 1772.2,1043.1 1796.5,1036.3 1820.9,1043.1 1845.2,1043.1 1869.5,1049.9 1893.8,1043.1 1918.2,1056.6 1942.5,1049.9 1942.5,1090.5 1918.2,1090.5 1893.8,1090.5 1869.5,1090.5 1845.2,1090.5 1820.9,1090.5 1796.5,1090.5 1772.2,1090.5 1747.9,1090.5 1723.5,1090.5 1699.2,1090.5 1674.9,1090.5 1650.5,1090.5 1626.2,1090.5 1601.9,1090.5 1577.6,1090.5 1553.2,1090.5 1528.9,1090.5 1504.6,1090.5 1480.2,1090.5 1455.9,1090.5 1431.6,1090.5 1407.2,1090.5 1382.9,1090.5 1358.6,1090.5 1334.3,1090.5" fill="#E64B35" fill-opacity="0.3"/>
<path d="M1528.9 1083.7 L1553.2 1077 L1577.6 1083.7"/>
<path d="M1626.2 1077 L1650.5 1077 L1674.9 1083.7 L1699.2 1077 L1723.5 1077 L1747.9 1077 L1772.2 1083.7 L1796.5 1077 L1820.9 1083.7"/>
<path d="M1626.2 1083.7 L1650.5 1083.7"/>
<path d="M1699.2 1083.7 L1723.5 1083.7"/>
<path d="M1699.2 1077 L1723.5 1083.7"/>
<path d="M1772.2 1083.7 L1796.5 1083.7 L1820.9 1083.7"/>
<path d="M1845.2 1049.9 L1869.5 1083.7 L1893.8 1049.9 L1918.2 1083.7 L1942.5 1077"/>
<path d="M1869.5 1083.7 L1893.8 1083.7 L1918.2 1083.7 L1942.5 1083.7"/>
</g>
<g fill="#E64B35">
<circle cx="1553.2" cy="1083.7" r="6.45"/>
<circle cx="1747.9" cy="1083.7" r="6.45"/>
<circle cx="1772.2" cy="1083.7" r="6.45"/>
<circle cx="1845.2" cy="1083.7" r="6.45"/>
</g>
<g class="tk" text-anchor="end">
<text x="69.6" y="1100.3">0</text>
<text x="69.6" y="1066.4">5</text>
<text x="69.6" y="1032.5">10</text>
<text x="69.6" y="998.7">15</text>
<text x="69.6" y="964.8">20</text>
</g>
<text class="st" text-anchor="middle" transform="translate(2006 1022.8) rotate(90)">Galati</text>
<g class="b" clip-path="url(#c50)">
<path d="M89.8 1240.4H1026.5M89.8 1198.1H1026.5M89.8 1155.7H1026.5M168.8 1119.3V1268.4M486.8 1119.3V1268.4M806.5 1119.3V1268.4" stroke="#EBEBEB" stroke-width="2.2" fill="none"/>
<path d="M89.8 1261.6H1026.5M89.8 1219.3H1026.5M89.8 1176.9H1026.5M89.8 1134.5H1026.5M326.9 1119.3V1268.4M646.7 1119.3V1268.4M966.4 1119.3V1268.4" stroke="#EBEBEB" stroke-width="4.4" fill="none"/>
<polygon points="326.9,1261.6 351.2,1253.2 375.6,1244.7 399.9,1219.3 424.2,1193.9 448.5,1185.4 472.9,1160 497.2,1126.1 521.5,1126.1 545.9,1134.5 570.2,1134.5 594.5,1143 618.9,1143 643.2,1143 667.5,1151.5 691.8,1160 716.2,1160 740.5,1168.4 764.8,1168.4 789.2,1176.9 813.5,1181.1 837.8,1176.9 862.2,1193.9 886.5,1210.8 910.8,1210.8 935.1,1219.3 959.5,1219.3 983.8,1236.2 983.8,1261.6 959.5,1261.6 935.1,1261.6 910.8,1261.6 886.5,1261.6 862.2,1261.6 837.8,1261.6 813.5,1261.6 789.2,1261.6 764.8,1261.6 740.5,1261.6 716.2,1261.6 691.8,1261.6 667.5,1261.6 643.2,1261.6 618.9,1261.6 594.5,1261.6 570.2,1261.6 545.9,1261.6 521.5,1261.6 497.2,1261.6 472.9,1261.6 448.5,1261.6 424.2,1261.6 399.9,1261.6 375.6,1261.6 351.2,1261.6 326.9,1261.6" fill="#E64B35" fill-opacity="0.3"/>
<path d="M448.5 1253.2 L472.9 1244.7 L497.2 1244.7 L521.5 1227.7 L545.9 1236.2 L570.2 1253.2 L594.5 1253.2 L618.9 1244.7 L643.2 1244.7 L667.5 1244.7 L691.8 1227.7 L716.2 1219.3 L740.5 1253.2"/>
<path d="M545.9 1227.7 L570.2 1253.2 L594.5 1236.2 L618.9 1244.7"/>
<path d="M618.9 1227.7 L643.2 1244.7 L667.5 1202.3 L691.8 1236.2 L716.2 1244.7 L740.5 1236.2 L764.8 1219.3 L789.2 1227.7 L813.5 1236.2 L837.8 1210.8 L862.2 1236.2 L886.5 1244.7 L910.8 1236.2 L935.1 1244.7"/>
<path d="M667.5 1253.2 L691.8 1253.2 L716.2 1253.2 L740.5 1236.2 L764.8 1253.2 L789.2 1244.7 L813.5 1253.2 L837.8 1244.7"/>
<path d="M716.2 1253.2 L740.5 1253.2 L764.8 1244.7"/>
<path d="M789.2 1253.2 L813.5 1236.2 L837.8 1253.2 L862.2 1236.2 L886.5 1244.7 L910.8 1236.2 L935.1 1244.7 L959.5 1253.2 L983.8 1244.7"/>
<path d="M789.2 1253.2 L813.5 1253.2 L837.8 1253.2 L862.2 1253.2"/>
<path d="M837.8 1253.2 L862.2 1236.2 L886.5 1236.2 L910.8 1253.2 L935.1 1244.7"/>
<path d="M910.8 1244.7 L935.1 1244.7"/>
<path d="M959.5 1244.7 L983.8 1253.2"/>
</g>
<g fill="#E64B35">
<circle cx="399.9" cy="1244.7" r="6.45"/>
<circle cx="424.2" cy="1236.2" r="6.45"/>
<circle cx="448.5" cy="1202.3" r="6.45"/>
<circle cx="472.9" cy="1202.3" r="6.45"/>
<circle cx="497.2" cy="1227.7" r="6.45"/>
<circle cx="521.5" cy="1236.2" r="6.45"/>
<circle cx="545.9" cy="1244.7" r="6.45"/>
<circle cx="570.2" cy="1210.8" r="6.45"/>
<circle cx="594.5" cy="1236.2" r="6.45"/>
<circle cx="618.9" cy="1244.7" r="6.45"/>
<circle cx="643.2" cy="1253.2" r="6.45"/>
<circle cx="667.5" cy="1253.2" r="6.45"/>
<circle cx="740.5" cy="1253.2" r="6.45"/>
</g>
<g class="b" clip-path="url(#c51)">
<path d="M1048.5 1240.4H1985.1M1048.5 1198.1H1985.1M1048.5 1155.7H1985.1M1127.5 1119.3V1268.4M1445.5 1119.3V1268.4M1765.2 1119.3V1268.4" stroke="#EBEBEB" stroke-width="2.2" fill="none"/>
<path d="M1048.5 1261.6H1985.1M1048.5 1219.3H1985.1M1048.5 1176.9H1985.1M1048.5 1134.5H1985.1M1285.6 1119.3V1268.4M1605.4 1119.3V1268.4M1925.1 1119.3V1268.4" stroke="#EBEBEB" stroke-width="4.4" fill="none"/>
<polygon points="1309.9,1261.6 1334.3,1253.2 1358.6,1253.2 1382.9,1244.7 1407.2,1244.7 1431.6,1236.2 1455.9,1219.3 1480.2,1227.7 1504.6,1227.7 1528.9,1219.3 1553.2,1219.3 1577.6,1219.3 1601.9,1210.8 1626.2,1210.8 1650.5,1210.8 1674.9,1210.8 1699.2,1210.8 1723.5,1206.6 1747.9,1210.8 1772.2,1219.3 1796.5,1202.3 1820.9,1210.8 1845.2,1219.3 1869.5,1219.3 1893.8,1219.3 1918.2,1219.3 1942.5,1219.3 1942.5,1261.6 1918.2,1261.6 1893.8,1261.6 1869.5,1261.6 1845.2,1261.6 1820.9,1261.6 1796.5,1261.6 1772.2,1261.6 1747.9,1261.6 1723.5,1261.6 1699.2,1261.6 1674.9,1261.6 1650.5,1261.6 1626.2,1261.6 1601.9,1261.6 1577.6,1261.6 1553.2,1261.6 1528.9,1261.6 1504.6,1261.6 1480.2,1261.6 1455.9,1261.6 1431.6,1261.6 1407.2,1261.6 1382.9,1261.6 1358.6,1261.6 1334.3,1261.6 1309.9,1261.6" fill="#E64B35" fill-opacity="0.3"/>
<path d="M1504.6 1244.7 L1528.9 1253.2 L1553.2 1244.7"/>
<path d="M1577.6 1253.2 L1601.9 1244.7 L1626.2 1244.7 L1650.5 1253.2 L1674.9 1253.2 L1699.2 1253.2 L1723.5 1253.2"/>
<path d="M1747.9 1253.2 L1772.2 1253.2 L1796.5 1253.2 L1820.9 1210.8 L1845.2 1244.7"/>
<path d="M1772.2 1253.2 L1796.5 1253.2 L1820.9 1253.2 L1845.2 1253.2 L1869.5 1253.2 L1893.8 1244.7 L1918.2 1236.2 L1942.5 1253.2"/>
<path d="M1918.2 1244.7 L1942.5 1244.7"/>
</g>
<g fill="#E64B35">
<circle cx="1455.9" cy="1253.2" r="6.45"/>
<circle cx="1480.2" cy="1253.2" r="6.45"/>
<circle cx="1626.2" cy="1253.2" r="6.45"/>
<circle cx="1650.5" cy="1253.2" r="6.45"/>
<circle cx="1674.9" cy="1253.2" r="6.45"/>
<circle cx="1699.2" cy="1244.7" r="6.45"/>
<circle cx="1723.5" cy="1253.2" r="6.45"/>
<circle cx="1845.2" cy="1253.2" r="6.45"/>
<circle cx="1893.8" cy="1244.7" r="6.45"/>
</g>
<g class="tk" text-anchor="end">
<text x="69.6" y="1271.4">0</text>
<text x="69.6" y="1229.1">5</text>
<text x="69.6" y="1186.7">10</text>
<text x="69.6" y="1144.3">15</text>
</g>
<text class="st" text-anchor="middle" transform="translate(2006 1193.8) rotate(90)">Ialomita</text>
<g class="b" clip-path="url(#c60)">
<path d="M89.8 1415H1026.5M89.8 1379.3H1026.5M89.8 1343.6H1026.5M89.8 1307.8H1026.5M168.8 1290.3V1439.7M486.8 1290.3V1439.7M806.5 1290.3V1439.7" stroke="#EBEBEB" stroke-width="2.2" fill="none"/>
<path d="M89.8 1432.9H1026.5M89.8 1397.2H1026.5M89.8 1361.4H1026.5M89.8 1325.7H1026.5M326.9 1290.3V1439.7M646.7 1290.3V1439.7M966.4 1290.3V1439.7" stroke="#EBEBEB" stroke-width="4.4" fill="none"/>
<polygon points="205.2,1432.9 229.6,1404.3 253.9,1390 278.2,1382.9 302.6,1365 326.9,1361.4 351.2,1350.7 375.6,1340 399.9,1332.8 424.2,1332.8 448.5,1340 472.9,1340 497.2,1340 521.5,1347.1 545.9,1354.3 570.2,1347.1 594.5,1354.3 618.9,1361.4 643.2,1361.4 667.5,1368.6 691.8,1372.1 716.2,1368.6 740.5,1375.7 764.8,1368.6 789.2,1382.9 813.5,1382.9 837.8,1382.9 862.2,1390 886.5,1397.2 910.8,1404.3 935.1,1404.3 959.5,1411.5 983.8,1411.5 983.8,1432.9 959.5,1432.9 935.1,1432.9 910.8,1432.9 886.5,1432.9 862.2,1432.9 837.8,1432.9 813.5,1432.9 789.2,1432.9 764.8,1432.9 740.5,1432.9 716.2,1432.9 691.8,1432.9 667.5,1432.9 643.2,1432.9 618.9,1432.9 594.5,1432.9 570.2,1432.9 545.9,1432.9 521.5,1432.9 497.2,1432.9 472.9,1432.9 448.5,1432.9 424.2,1432.9 399.9,1432.9 375.6,1432.9 351.2,1432.9 326.9,1432.9 302.6,1432.9 278.2,1432.9 253.9,1432.9 229.6,1432.9 205.2,1432.9" fill="#E64B35" fill-opacity="0.3"/>
<path d="M229.6 1418.6 L253.9 1411.5 L278.2 1418.6 L302.6 1418.6 L326.9 1425.8 L351.2 1425.8"/>
<path d="M229.6 1425.8 L253.9 1425.8 L278.2 1411.5 L302.6 1418.6 L326.9 1425.8 L351.2 1425.8"/>
<path d="M229.6 1425.8 L253.9 1418.6 L278.2 1425.8 L302.6 1425.8 L326.9 1418.6 L351.2 1425.8"/>
<path d="M302.6 1411.5 L326.9 1418.6 L351.2 1425.8"/>
<path d="M302.6 1425.8 L326.9 1411.5"/>
<path d="M326.9 1425.8 L351.2 1404.3 L375.6 1397.2 L399.9 1397.2 L424.2 1397.2 L448.5 1418.6 L472.9 1425.8 L497.2 1425.8"/>
<path d="M351.2 1418.6 L375.6 1425.8 L399.9 1404.3 L424.2 1425.8 L448.5 1397.2 L472.9 1411.5 L497.2 1418.6 L521.5 1411.5 L545.9 1418.6 L570.2 1418.6 L594.5 1397.2 L618.9 1404.3 L643.2 1382.9 L667.5 1411.5 L691.8 1418.6 L716.2 1418.6 L740.5 1411.5 L764.8 1411.5 L789.2 1390 L813.5 1418.6 L837.8 1425.8"/>
<path d="M399.9 1425.8 L424.2 1418.6 L448.5 1411.5 L472.9 1411.5 L497.2 1397.2 L521.5 1382.9 L545.9 1397.2 L570.2 1404.3 L594.5 1397.2 L618.9 1411.5 L643.2 1418.6 L667.5 1368.6 L691.8 1397.2 L716.2 1404.3 L740.5 1397.2 L764.8 1397.2 L789.2 1411.5 L813.5 1418.6 L837.8 1418.6 L862.2 1418.6 L886.5 1425.8"/>
<path d="M472.9 1425.8 L497.2 1390 L521.5 1425.8"/>
<path d="M472.9 1425.8 L497.2 1418.6 L521.5 1397.2 L545.9 1390 L570.2 1411.5 L594.5 1418.6 L618.9 1404.3 L643.2 1411.5 L667.5 1397.2 L691.8 1397.2 L716.2 1397.2 L740.5 1390 L764.8 1397.2 L789.2 1418.6 L813.5 1418.6 L837.8 1418.6 L862.2 1411.5 L886.5 1411.5 L910.8 1418.6 L935.1 1425.8"/>
<path d="M497.2 1411.5 L521.5 1411.5 L545.9 1425.8 L570.2 1425.8"/>
<path d="M545.9 1418.6 L570.2 1397.2 L594.5 1404.3 L618.9 1411.5 L643.2 1425.8 L667.5 1418.6 L691.8 1411.5 L716.2 1418.6 L740.5 1411.5 L764.8 1390 L789.2 1354.3 L813.5 1397.2 L837.8 1404.3 L862.2 1404.3 L886.5 1411.5 L910.8 1418.6 L935.1 1425.8 L959.5 1418.6 L983.8 1425.8"/>
<path d="M570.2 1411.5 L594.5 1418.6 L618.9 1425.8 L643.2 1411.5 L667.5 1418.6 L691.8 1418.6 L716.2 1411.5 L740.5 1411.5 L764.8 1418.6 L789.2 1418.6 L813.5 1411.5 L837.8 1411.5 L862.2 1404.3 L886.5 1425.8 L910.8 1425.8 L935.1 1425.8"/>
<path d="M740.5 1425.8 L764.8 1418.6 L789.2 1418.6 L813.5 1425.8 L837.8 1397.2 L862.2 1425.8 L886.5 1425.8"/>
<path d="M813.5 1411.5 L837.8 1411.5 L862.2 1411.5 L886.5 1418.6 L910.8 1390 L935.1 1418.6 L959.5 1425.8 L983.8 1418.6"/>
<path d="M910.8 1425.8 L935.1 1425.8"/>
<path d="M375.6 1425.8 L399.9 1425.8 L424.2 1418.6 L448.5 1425.8 L472.9 1425.8 L497.2 1418.6 L521.5 1425.8 L545.9 1425.8 L570.2 1418.6 L594.5 1425.8"/>
<path d="M643.2 1425.8 L667.5 1418.6 L691.8 1425.8 L716.2 1425.8 L740.5 1418.6 L764.8 1418.6 L789.2 1425.8 L813.5 1418.6 L837.8 1425.8 L862.2 1425.8 L886.5 1425.8 L910.8 1418.6 L935.1 1425.8 L959.5 1425.8"/>
</g>
<g fill="#E64B35">
<circle cx="253.9" cy="1418.6" r="6.45"/>
<circle cx="278.2" cy="1382.9" r="6.45"/>
<circle cx="302.6" cy="1397.2" r="6.45"/>
<circle cx="326.9" cy="1318.5" r="6.45"/>
<circle cx="351.2" cy="1347.1" r="6.45"/>
<circle cx="375.6" cy="1297.1" r="6.45"/>
<circle cx="399.9" cy="1404.3" r="6.45"/>
<circle cx="424.2" cy="1411.5" r="6.45"/>
<circle cx="448.5" cy="1375.7" r="6.45"/>
<circle cx="472.9" cy="1404.3" r="6.45"/>
<circle cx="497.2" cy="1425.8" r="6.45"/>
<circle cx="521.5" cy="1368.6" r="6.45"/>
<circle cx="545.9" cy="1418.6" r="6.45"/>
<circle cx="570.2" cy="1411.5" r="6.45"/>
<circle cx="618.9" cy="1404.3" r="6.45"/>
<circle cx="643.2" cy="1418.6" r="6.45"/>
<circle cx="691.8" cy="1425.8" r="6.45"/>
<circle cx="764.8" cy="1425.8" r="6.45"/>
<circle cx="789.2" cy="1425.8" r="6.45"/>
<circle cx="910.8" cy="1418.6" r="6.45"/>
<circle cx="959.5" cy="1425.8" r="6.45"/>
</g>
<g class="b" clip-path="url(#c61)">
<path d="M1048.5 1415H1985.1M1048.5 1379.3H1985.1M1048.5 1343.6H1985.1M1048.5 1307.8H1985.1M1127.5 1290.3V1439.7M1445.5 1290.3V1439.7M1765.2 1290.3V1439.7" stroke="#EBEBEB" stroke-width="2.2" fill="none"/>
<path d="M1048.5 1432.9H1985.1M1048.5 1397.2H1985.1M1048.5 1361.4H1985.1M1048.5 1325.7H1985.1M1285.6 1290.3V1439.7M1605.4 1290.3V1439.7M1925.1 1290.3V1439.7" stroke="#EBEBEB" stroke-width="4.4" fill="none"/>
<polygon points="1091,1432.9 1115.3,1422.2 1139.6,1415 1163.9,1411.5 1188.3,1400.7 1212.6,1404.3 1236.9,1397.2 1261.3,1382.9 1285.6,1382.9 1309.9,1375.7 1334.3,1368.6 1358.6,1361.4 1382.9,1361.4 1407.2,1361.4 1431.6,1354.3 1455.9,1347.1 1480.2,1354.3 1504.6,1361.4 1528.9,1354.3 1553.2,1354.3 1577.6,1361.4 1601.9,1354.3 1626.2,1357.9 1650.5,1361.4 1674.9,1357.9 1699.2,1361.4 1723.5,1365 1747.9,1368.6 1772.2,1361.4 1796.5,1361.4 1820.9,1361.4 1845.2,1368.6 1869.5,1368.6 1893.8,1368.6 1918.2,1375.7 1942.5,1375.7 1942.5,1432.9 1918.2,1432.9 1893.8,1432.9 1869.5,1432.9 1845.2,1432.9 1820.9,1432.9 1796.5,1432.9 1772.2,1432.9 1747.9,1432.9 1723.5,1432.9 1699.2,1432.9 1674.9,1432.9 1650.5,1432.9 1626.2,1432.9 1601.9,1432.9 1577.6,1432.9 1553.2,1432.9 1528.9,1432.9 1504.6,1432.9 1480.2,1432.9 1455.9,1432.9 1431.6,1432.9 1407.2,1432.9 1382.9,1432.9 1358.6,1432.9 1334.3,1432.9 1309.9,1432.9 1285.6,1432.9 1261.3,1432.9 1236.9,1432.9 1212.6,1432.9 1188.3,1432.9 1163.9,1432.9 1139.6,1432.9 1115.3,1432.9 1091,1432.9" fill="#E64B35" fill-opacity="0.3"/>
<path d="M1115.3 1425.8 L1139.6 1425.8 L1163.9 1418.6 L1188.3 1418.6 L1212.6 1418.6 L1236.9 1425.8 L1261.3 1425.8 L1285.6 1411.5 L1309.9 1425.8 L1334.3 1411.5 L1358.6 1425.8 L1382.9 1425.8 L1407.2 1425.8 L1431.6 1425.8 L1455.9 1418.6 L1480.2 1425.8 L1504.6 1418.6 L1528.9 1425.8 L1553.2 1418.6 L1577.6 1411.5 L1601.9 1418.6 L1626.2 1425.8 L1650.5 1418.6 L1674.9 1418.6 L1699.2 1411.5 L1723.5 1418.6 L1747.9 1425.8 L1772.2 1418.6 L1796.5 1425.8 L1820.9 1418.6 L1845.2 1411.5 L1869.5 1418.6 L1893.8 1425.8 L1918.2 1418.6 L1942.5 1425.8"/>
<path d="M1163.9 1425.8 L1188.3 1425.8 L1212.6 1425.8"/>
<path d="M1188.3 1425.8 L1212.6 1425.8"/>
<path d="M1212.6 1404.3 L1236.9 1418.6"/>
<path d="M1261.3 1425.8 L1285.6 1404.3 L1309.9 1411.5 L1334.3 1397.2 L1358.6 1404.3 L1382.9 1418.6 L1407.2 1411.5 L1431.6 1418.6 L1455.9 1404.3 L1480.2 1397.2 L1504.6 1397.2 L1528.9 1404.3 L1553.2 1397.2 L1577.6 1425.8 L1601.9 1425.8 L1626.2 1418.6 L1650.5 1411.5 L1674.9 1411.5 L1699.2 1404.3 L1723.5 1397.2 L1747.9 1404.3 L1772.2 1411.5 L1796.5 1404.3 L1820.9 1411.5 L1845.2 1404.3 L1869.5 1397.2 L1893.8 1411.5 L1918.2 1404.3 L1942.5 1418.6"/>
<path d="M1261.3 1425.8 L1285.6 1411.5 L1309.9 1425.8 L1334.3 1411.5 L1358.6 1411.5 L1382.9 1425.8 L1407.2 1425.8 L1431.6 1425.8 L1455.9 1418.6 L1480.2 1425.8 L1504.6 1418.6 L1528.9 1411.5 L1553.2 1418.6 L1577.6 1404.3 L1601.9 1368.6 L1626.2 1397.2 L1650.5 1404.3 L1674.9 1404.3 L1699.2 1368.6 L1723.5 1404.3 L1747.9 1390 L1772.2 1368.6 L1796.5 1368.6 L1820.9 1390 L1845.2 1354.3 L1869.5 1382.9 L1893.8 1375.7 L1918.2 1411.5 L1942.5 1375.7"/>
<path d="M1285.6 1418.6 L1309.9 1425.8 L1334.3 1425.8 L1358.6 1404.3 L1382.9 1418.6 L1407.2 1411.5 L1431.6 1418.6 L1455.9 1404.3 L1480.2 1397.2 L1504.6 1397.2 L1528.9 1390 L1553.2 1397.2 L1577.6 1425.8 L1601.9 1425.8 L1626.2 1418.6 L1650.5 1418.6 L1674.9 1411.5 L1699.2 1382.9 L1723.5 1397.2 L1747.9 1390 L1772.2 1382.9 L1796.5 1397.2 L1820.9 1382.9 L1845.2 1368.6 L1869.5 1418.6 L1893.8 1425.8 L1918.2 1390 L1942.5 1404.3"/>
<path d="M1382.9 1397.2 L1407.2 1425.8 L1431.6 1404.3 L1455.9 1404.3 L1480.2 1397.2 L1504.6 1411.5 L1528.9 1390 L1553.2 1404.3 L1577.6 1411.5 L1601.9 1418.6 L1626.2 1411.5 L1650.5 1411.5 L1674.9 1418.6 L1699.2 1390 L1723.5 1404.3 L1747.9 1404.3 L1772.2 1390 L1796.5 1411.5 L1820.9 1411.5 L1845.2 1382.9 L1869.5 1418.6 L1893.8 1411.5 L1918.2 1404.3 L1942.5 1397.2"/>
<path d="M1382.9 1411.5 L1407.2 1390 L1431.6 1418.6 L1455.9 1418.6 L1480.2 1425.8 L1504.6 1418.6 L1528.9 1411.5 L1553.2 1418.6 L1577.6 1418.6 L1601.9 1411.5 L1626.2 1418.6 L1650.5 1418.6 L1674.9 1411.5 L1699.2 1418.6 L1723.5 1425.8 L1747.9 1418.6 L1772.2 1418.6 L1796.5 1411.5 L1820.9 1418.6 L1845.2 1418.6 L1869.5 1425.8 L1893.8 1418.6 L1918.2 1411.5 L1942.5 1418.6"/>
<path d="M1528.9 1418.6 L1553.2 1411.5 L1577.6 1411.5 L1601.9 1418.6 L1626.2 1418.6 L1650.5 1411.5 L1674.9 1411.5 L1699.2 1404.3 L1723.5 1411.5 L1747.9 1418.6 L1772.2 1425.8 L1796.5 1418.6 L1820.9 1411.5 L1845.2 1411.5 L1869.5 1418.6 L1893.8 1418.6 L1918.2 1425.8 L1942.5 1418.6"/>
</g>
<g fill="#E64B35">
<circle cx="1236.9" cy="1418.6" r="6.45"/>
<circle cx="1285.6" cy="1425.8" r="6.45"/>
<circle cx="1309.9" cy="1411.5" r="6.45"/>
<circle cx="1334.3" cy="1425.8" r="6.45"/>
<circle cx="1358.6" cy="1425.8" r="6.45"/>
<circle cx="1480.2" cy="1411.5" r="6.45"/>
<circle cx="1504.6" cy="1418.6" r="6.45"/>
<circle cx="1528.9" cy="1418.6" r="6.45"/>
<circle cx="1553.2" cy="1418.6" r="6.45"/>
<circle cx="1577.6" cy="1404.3" r="6.45"/>
<circle cx="1601.9" cy="1411.5" r="6.45"/>
<circle cx="1650.5" cy="1418.6" r="6.45"/>
<circle cx="1674.9" cy="1418.6" r="6.45"/>
<circle cx="1723.5" cy="1425.8" r="6.45"/>
<circle cx="1747.9" cy="1418.6" r="6.45"/>
<circle cx="1772.2" cy="1425.8" r="6.45"/>
<circle cx="1796.5" cy="1425.8" r="6.45"/>
<circle cx="1820.9" cy="1418.6" r="6.45"/>
<circle cx="1869.5" cy="1418.6" r="6.45"/>
</g>
<g class="tk" text-anchor="end">
<text x="69.6" y="1442.7">0</text>
<text x="69.6" y="1407">5</text>
<text x="69.6" y="1371.2">10</text>
<text x="69.6" y="1335.5">15</text>
</g>
<text class="st" text-anchor="middle" transform="translate(2006 1365) rotate(90)">Tulcea</text>
<text class="st" text-anchor="middle" x="558.3" y="20.7">Domestic pig farms</text>
<text class="st" text-anchor="middle" x="1516.8" y="20.7">Wild boar patches</text>
<g class="tk" text-anchor="middle">
<text x="326.9" y="1480.4">Jul</text>
<text x="646.7" y="1480.4">Oct</text>
<text x="966.4" y="1480.4">Jan</text>
<text x="1285.6" y="1480.4">Jul</text>
<text x="1605.4" y="1480.4">Oct</text>
<text x="1925.1" y="1480.4">Jan</text>
</g>
<text class="ax" text-anchor="middle" x="1038.2" y="1516.6">Date</text>
<text class="ax" text-anchor="middle" transform="translate(21 936.6) rotate(-90)">Incidence</text>
<rect x="479.9" y="1592.9" width="64" height="64" fill="#E64B35" fill-opacity="0.3"/>
<text class="ax" x="567.6" y="1634.4">95% prediction interval</text>
<path d="M906.1 1624.6H962.6" stroke="#E64B35" stroke-width="7.1" fill="none"/>
<text class="ax" x="990" y="1634.4">Individual trajectories</text>
<circle cx="1336.4" cy="1624.7" r="10.4" fill="#E64B35"/>
<text class="ax" x="1393.1" y="1634.4">Observed cases</text>
</svg>
</body>
</html>
